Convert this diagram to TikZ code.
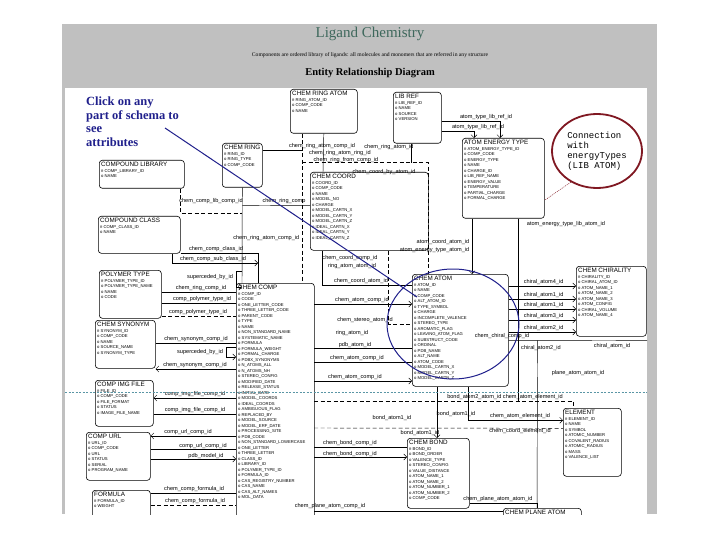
\documentclass[tikz,border=0pt]{standalone}
\usepackage{fontspec}
\setmainfont{Liberation Serif}
\setsansfont{Liberation Sans}
\setmonofont{Liberation Mono}
\usetikzlibrary{calc, arrows.meta, positioning, shapes.geometric}
\definecolor{pageGray}{RGB}{192,192,192}
\definecolor{titleGreen}{RGB}{62,104,92}
\definecolor{hintBlue}{RGB}{32,32,140}
\definecolor{noteRed}{RGB}{128,24,34}
\definecolor{gridTeal}{RGB}{90,150,165}

\begin{document}
\begin{tikzpicture}[x=1pt, y=-1pt,
    entity/.style={draw, rounded corners=3pt, line width=0.6pt, anchor=north west, inner sep=0pt},
    attrs/.style={anchor=north west, align=left, inner sep=2pt, font=\fontsize{4.2}{5.5}\selectfont\sffamily},
    rel/.style={draw, line width=0.45pt},
    optrel/.style={rel, dash pattern=on 4pt off 2.5pt},
    lbl/.style={font=\fontsize{5.6}{6}\selectfont\sffamily, inner sep=0.5pt},
    tip/.style={-{Straight Barb[length=3pt]}},
  ]
    \useasboundingbox (0,0) rectangle (720,540);

    % Page
    \fill[pageGray] (62,24) rectangle (657,514);
    \fill[white] (65,88) rectangle (647,514);

    % Heading
    \node[font=\fontsize{15}{15}\selectfont, text=titleGreen] (title) at (370,34) {Ligand Chemistry};
    \node[font=\fontsize{5.6}{6}\selectfont] (subtitle) at (370,55)
        {Components are ordered library of ligands: all molecules and monomers that are referred in any structure};
    \node[font=\fontsize{10.5}{11}\selectfont\bfseries] (erd) at (370,73) {Entity Relationship Diagram};

    \begin{scope}
    \clip (65,88) rectangle (647,514);

    % Entities
    \foreach \nm/\px/\py/\bw/\bh/\ttl/\lst in {
        ringatom/290/89/67/44/{CHEM RING ATOM}/{\# RING\_ATOM\_ID\\o COMP\_CODE\\o NAME},
        libref/393/92/48/51/{LIB REF}/{\# LIB\_REF\_ID\\o NAME\\o SOURCE\\o VERSION},
        energy/462/138/82/80/{ATOM ENERGY TYPE}/{\# ATOM\_ENERGY\_TYPE\_ID\\o COMP\_CODE\\o ENERGY\_TYPE\\o NAME\\o CHARGE\_ID\\o LIB\_REF\_NAME\\o ENERGY\_VALUE\\o TEMPERATURE\\o PARTIAL\_CHARGE\\o FORMAL\_CHARGE},
        ring/222/143/40/44/{CHEM RING}/{\# RING\_ID\\o RING\_TYPE\\o COMP\_CODE},
        complib/99/160/85/28/{COMPOUND LIBRARY}/{\# COMP\_LIBRARY\_ID\\o NAME},
        compclass/98/216/82/37/{COMPOUND CLASS}/{\# COMP\_CLASS\_ID\\o NAME},
        coord/310/172/118/78/{CHEM COORD}/{\# COORD\_ID\\o COMP\_CODE\\o NAME\\o MODEL\_NO\\o CHARGE\\o MODEL\_CARTN\_X\\o MODEL\_CARTN\_Y\\o MODEL\_CARTN\_Z\\o IDEAL\_CARTN\_X\\o IDEAL\_CARTN\_Y\\o IDEAL\_CARTN\_Z},
        polymer/99/270/62/48/{POLYMER TYPE}/{\# POLYMER\_TYPE\_ID\\o POLYMER\_TYPE\_NAME\\o NAME\\o CODE},
        synonym/95/320/60/48/{CHEM SYNONYM}/{\# SYNONYM\_ID\\o COMP\_CODE\\o NAME\\o SOURCE\_NAME\\o SYNONYM\_TYPE},
        comp/236/283/78/240/{CHEM COMP}/{\# COMP\_ID\\o CODE\\o ONE\_LETTER\_CODE\\o THREE\_LETTER\_CODE\\o PARENT\_CODE\\o TYPE\\o NAME\\o NON\_STANDARD\_NAME\\o SYSTEMATIC\_NAME\\o FORMULA\\o FORMULA\_WEIGHT\\o FORMAL\_CHARGE\\o PDBX\_SYNONYMS\\o N\_ATOMS\_ALL\\o N\_ATOMS\_NH\\o STEREO\_CONFIG\\o MODIFIED\_DATE\\o RELEASE\_STATUS\\o INITIAL\_DATE\\o MODEL\_COORDS\\o IDEAL\_COORDS\\o AMBIGUOUS\_FLAG\\o REPLACED\_BY\\o MODEL\_SOURCE\\o MODEL\_ERF\_DATE\\o PROCESSING\_SITE\\o PDB\_CODE\\o NON\_STANDARD\_LOWERCASE\\o ONE\_LETTER\\o THREE\_LETTER\\o CLASS\_ID\\o LIBRARY\_ID\\o POLYMER\_TYPE\_ID\\o FORMULA\_ID\\o CAS\_REGISTRY\_NUMBER\\o CAS\_NAME\\o CAS\_ALT\_NAMES\\o MOL\_DATA},
        atom/412/274/96/112/{CHEM ATOM}/{\# ATOM\_ID\\o NAME\\o COMP\_CODE\\o ALT\_ATOM\_ID\\o TYPE\_SYMBOL\\o CHARGE\\o INCOMPLETE\_VALENCE\\o STEREO\_TYPE\\o AROMATIC\_FLAG\\o LEAVING\_ATOM\_FLAG\\o SUBSTRUCT\_CODE\\o ORDINAL\\o PDB\_NAME\\o ALT\_NAME\\o ATOM\_CODE\\o MODEL\_CARTN\_X\\o MODEL\_CARTN\_Y\\o MODEL\_CARTN\_Z},
        chiral/576/266/70/70/{CHEM CHIRALITY}/{\# CHIRALITY\_ID\\o CHIRAL\_ATOM\_ID\\o ATOM\_NAME\_1\\o ATOM\_NAME\_2\\o ATOM\_NAME\_3\\o ATOM\_CONFIG\\o CHIRAL\_VOLUME\\o ATOM\_NAME\_4},
        imgfile/95/380/58/46/{COMP IMG FILE}/{\# FILE\_ID\\o COMP\_CODE\\o FILE\_FORMAT\\o STATUS\\o IMAGE\_FILE\_NAME},
        url/86/432/64/48/{COMP URL}/{\# URL\_ID\\o COMP\_CODE\\o URL\\o STATUS\\o SERIAL\\o PROGRAM\_NAME},
        formula/92/490/58/30/{FORMULA}/{\# FORMULA\_ID\\o WEIGHT},
        bond/407/438/62/70/{CHEM BOND}/{\# BOND\_ID\\o BOND\_ORDER\\o VALENCE\_TYPE\\o STEREO\_CONFIG\\o VALUE\_DISTANCE\\o ATOM\_NAME\_1\\o ATOM\_NAME\_2\\o ATOM\_NUMBER\_1\\o ATOM\_NUMBER\_2\\o COMP\_CODE},
        element/563/408/58/68/{ELEMENT}/{\# ELEMENT\_ID\\o NAME\\o SYMBOL\\o ATOMIC\_NUMBER\\o COVALENT\_RADIUS\\o ATOMIC\_RADIUS\\o MASS\\o VALENCE\_LIST},
        planeatom/503/508/78/20/{CHEM PLANE ATOM}/{\# PLANE\_ATOM\_ID}%
    }{
        \node[entity, minimum width=\bw pt, minimum height=\bh pt] (\nm) at (\px,\py) {};
        \node[attrs] (\nm-txt) at (\nm.north west) {{\fontsize{6.3}{7}\selectfont \ttl}\\\lst};
    }

    % Ring atom and coordinates
    \draw[optrel] ($(ringatom.south west)+(12,0)$) -- ($(comp.north west)+(66,0)$);
    \draw[rel] (ringatom.south) -- ($(coord.north west)+(13,0)$);
    \draw[rel] ($(ring.north east)+(0,7)$) -- ++(40,0);
    \draw[optrel] ($(ringatom.south west)+(12,29)$) -| ($(atom.north west)+(16,0)$);
    \draw[rel] ($(libref.south west)+(18,0)$) -- ++(0,19);
    \node[lbl] (l1) at (322,146) {chem\_ring\_atom\_comp\_id};
    \node[lbl] (l2) at (340,153) {chem\_ring\_atom\_ring\_id};
    \node[lbl] (l3) at (346,160) {chem\_ring\_from\_comp\_id};
    \node[lbl] (l4) at (389,147) {chem\_ring\_atom\_id};
    \node[lbl] (l5) at (384,172) {chem\_coord\_by\_atom\_id};

    % Library reference and energy types
    \draw[rel, tip] ($(libref.north east)+(0,29)$) -| ($(energy.north west)+(38,0)$);
    \draw[rel, tip] ($(libref.north east)+(0,39)$) -| ($(energy.north west)+(12,0)$);
    \node[lbl] (l6) at (486,117) {atom\_type\_lib\_ref\_id};
    \node[lbl] (l7) at (478,127) {atom\_type\_lib\_ref\_id};
    \draw[rel] ($(energy.south west)+(56,0)$) -- ++(0,183) coordinate (ej);
    \node[lbl] (l8) at (566,224) {atom\_energy\_type\_lib\_atom\_id};
    \draw[rel, tip] ($(energy.south west)+(10,0)$) -- ($(atom.north west)+(60,0)$);
    \node[lbl, anchor=east] (l9) at (470,250) {atom\_energy\_type\_atom\_id};
    \node[lbl, anchor=east] (l10) at (470,242) {atom\_coord\_atom\_id};

    % Classes, rings and the compound
    \draw[optrel] ($(complib.south east)+(-4,0)$) |- ($(ring.south)+(0,26)$);
    \node[lbl] (l11) at (211,201) {chem\_comp\_lib\_comp\_id};
    \draw[rel] (ring.south) -- ($(comp.north west)+(6,0)$);
    \draw[rel] ($(ring.south)+(0,18)$) -- ($(coord.west)+(0,-6)$);
    \node[lbl] (l12) at (284,201) {chem\_ring\_comp};
    \node[lbl, anchor=east] (l13) at (300,238) {chem\_ring\_atom\_comp\_id};
    \draw[rel] (compclass.south east) -| ($(comp.north west)+(22,0)$);
    \node[lbl] (l14) at (216,249) {chem\_comp\_class\_id};
    \draw[rel, tip] ($(compclass.south west)+(74,0)$) |- ($(comp.north west)+(22,-20)$);
    \node[lbl] (l15) at (213,259) {chem\_comp\_sub\_class\_id};
    \draw[rel, tip] ($(comp.north west)+(6,-12)$) -- ++(-6,0) -- ++(0,16) -- ++(6,0);
    \node[lbl] (l16) at (210,277) {superceded\_by\_id};

    % Polymer, synonym and files
    \draw[rel] ($(polymer.north east)+(0,22)$) -- ($(comp.north west)+(0,9)$);
    \node[lbl] (l17) at (201,288) {chem\_ring\_comp\_id};
    \draw[rel] ($(polymer.north east)+(0,33)$) -- ($(comp.north west)+(0,20)$);
    \node[lbl] (l18) at (202,299) {comp\_polymer\_type\_id};
    \draw[optrel] ($(polymer.north east)+(0,46)$) -- ($(comp.north west)+(0,33)$);
    \node[lbl] (l19) at (198,312) {comp\_polymer\_type\_id};
    \draw[rel] ($(synonym.north east)+(0,23)$) -- ($(comp.north west)+(0,60)$);
    \node[lbl] (l20) at (196,339) {chem\_synonym\_comp\_id};
    \draw[rel, tip] ($(comp.north west)+(0,64)$) -- ++(-10,0) |- ($(comp.north west)+(0,74)$);
    \node[lbl] (l21) at (200,352) {superceded\_by\_id};
    \draw[rel, tip] ($(comp.north west)+(0,86)$) -- ($(synonym.north east)+(0,49)$);
    \node[lbl] (l22) at (195,365) {chem\_synonym\_comp\_id};
    \draw[rel, tip] ($(comp.north west)+(0,115)$) -- ($(imgfile.north east)+(0,18)$);
    \node[lbl] (l23) at (195,394) {comp\_img\_file\_comp\_id};
    \draw[rel] ($(imgfile.north east)+(0,34)$) -- ($(comp.north west)+(0,131)$);
    \node[lbl] (l24) at (195,410) {comp\_img\_file\_comp\_id};
    \draw[rel, tip] ($(comp.north west)+(0,153)$) -- ($(url.north east)+(0,4)$);
    \node[lbl] (l25) at (188,432) {comp\_url\_comp\_id};
    \draw[rel] ($(url.north east)+(0,17)$) -- ($(comp.north west)+(0,166)$);
    \node[lbl] (l26) at (203,446) {comp\_url\_comp\_id};
    \draw[rel, tip] ($(url.north east)+(0,27)$) -- ($(comp.north west)+(0,176)$);
    \node[lbl] (l27) at (206,456) {pdb\_model\_id};
    \draw[rel] ($(formula.north east)+(0,3)$) -- ($(comp.north west)+(0,210)$);
    \node[lbl] (l28) at (194,489) {chem\_comp\_formula\_id};
    \draw[optrel] ($(formula.north east)+(0,15)$) -- ($(comp.north west)+(0,222)$);
    \node[lbl] (l29) at (195,501) {chem\_comp\_formula\_id};

    % Compound and atoms
    \draw[rel] ($(coord.south west)+(12,0)$) -- ++(0,35) coordinate (cj) -- (cj -| atom.west);
    \node[lbl] (l30) at (361,281) {chem\_coord\_atom\_id};
    \node[lbl] (l31) at (350,258) {chem\_coord\_comp\_id};
    \node[lbl] (l32) at (352,266) {ring\_atom\_atom\_id};
    \draw[rel, tip] ($(comp.north west)+(78,21)$) -- ($(atom.north west)+(0,30)$);
    \node[lbl] (l33) at (362,300) {chem\_atom\_comp\_id};
    \draw[optrel] ($(coord.south east)+(-40,0)$) |- ($(atom.north west)+(0,50)$);
    \node[lbl] (l34) at (365,320) {chem\_stereo\_atom\_id};
    \draw[rel] ($(comp.north west)+(78,65)$) -- ($(atom.north west)+(0,74)$);
    \node[lbl] (l35) at (352,333) {ring\_atom\_id};
    \node[lbl] (l36) at (355,345) {pdb\_atom\_id};
    \draw[rel] ($(comp.north west)+(78,79)$) -- ($(atom.north west)+(0,88)$);
    \node[lbl] (l37) at (357,358) {chem\_atom\_comp\_id};
    \draw[rel, tip] ($(comp.north west)+(78,98)$) -- ($(atom.north west)+(0,107)$);
    \node[lbl] (l38) at (355,377) {chem\_atom\_comp\_id};

    % Chirality
    \foreach \dy/\cname in {10/chiral\_atom4\_id, 23/chiral\_atom1\_id, 33/chiral\_atom1\_id, 44/chiral\_atom3\_id, 56/chiral\_atom2\_id} {
        \draw[rel, tip] ($(atom.north east)+(0,\dy+2)$) -- ($(chiral.north west)+(0,\dy+10)$);
        \node[lbl] at ($(atom.north east)+(35,\dy-2)$) {\cname};
    }
    \draw[rel] ($(atom.east)+(0,10)$) -- ($(chiral.south east)+(6,4)$);
    \node[lbl] (l39) at (502,336) {chem\_chiral\_comp\_id};
    \node[lbl] (l40) at (612,346) {chiral\_atom\_id};
    \node[lbl] (l41) at (541,348) {chiral\_atom2\_id};
    \draw[rel] ($(atom.east)+(29,10)$) -- ($(planeatom.north west)+(34,0)$);
    \node[lbl] (l42) at (578,373) {plane\_atom\_atom\_id};

    % Bonds and elements
    \draw[optrel] ($(comp.north west)+(78,118)$) -| ($(element.north west)+(10,0)$);
    \node[lbl] (l43) at (505,397) {bond\_atom2\_atom\_id\ chem\_atom\_element\_id};
    \draw[rel, tip] ($(atom.south west)+(56,0)$) |- ($(element.west)+(0,-22)$);
    \node[lbl] (l44) at (520,416) {chem\_atom\_element\_id};
    \draw[optrel] ($(comp.north west)+(78,145)$) -- ($(element.west)+(0,-14)$);
    \node[lbl] (l45) at (520,431) {chem\_coord\_element\_id};
    \draw[rel, tip] ($(atom.south west)+(25,0)$) -- ($(bond.north west)+(30,0)$);
    \node[lbl] (l46) at (456,414) {bond\_atom1\_id};
    \node[lbl] (l47) at (392,418) {bond\_atom1\_id};
    \node[lbl] (l48) at (420,433) {bond\_atom1\_id};
    \draw[rel] ($(comp.north west)+(78,164)$) -- ($(bond.north west)+(0,9)$);
    \node[lbl] (l49) at (350,443) {chem\_bond\_comp\_id};
    \draw[rel, tip] ($(comp.north west)+(78,174)$) -- ($(bond.north west)+(0,19)$);
    \node[lbl] (l50) at (350,454) {chem\_bond\_comp\_id};
    \draw[rel] ($(bond.south east)+(0,-5)$) -| ($(planeatom.north west)+(34,0)$);
    \node[lbl] (l51) at (498,499) {chem\_plane\_atom\_atom\_id};
    \draw[rel] ($(comp.north west)+(78,228)$) -- ($(planeatom.north west)+(0,3)$);
    \node[lbl] (l52) at (330,506) {chem\_plane\_atom\_comp\_id};
    \end{scope}

    % Separator
    \draw[gridTeal, dash pattern=on 2pt off 1.5pt, line width=0.5pt] (65,392) coordinate (sepl) -- (647,392) coordinate (sepr);

    % Hints
    \node[anchor=north west, align=left, text=hintBlue, inner sep=0pt,
          font=\fontsize{12.5}{13.5}\selectfont\bfseries] (hint) at (86,97)
        {Click on any\\part of schema to\\see\\attributes};
    \node[ellipse, draw=hintBlue, line width=1pt, minimum width=132pt, minimum height=110pt] (focus) at (453,324) {};
    \draw[hintBlue, line width=1pt] ($(hint.north west)+(79,31)$) -- ($(focus.center)+(-36,-27)$);
    \node[ellipse, draw=noteRed, line width=1.8pt, minimum width=90pt, minimum height=74pt,
          align=left, inner sep=0pt, font=\fontsize{9}{10}\selectfont\ttfamily] (note) at (597,151)
        {Connection\\with\\energyTypes\\(LIB ATOM)};
    \draw[noteRed, line width=0.5pt, dash pattern=on 1pt off 1pt] (note.230) -- ($(energy.east)+(0,22)$);
\end{tikzpicture}
\end{document}
